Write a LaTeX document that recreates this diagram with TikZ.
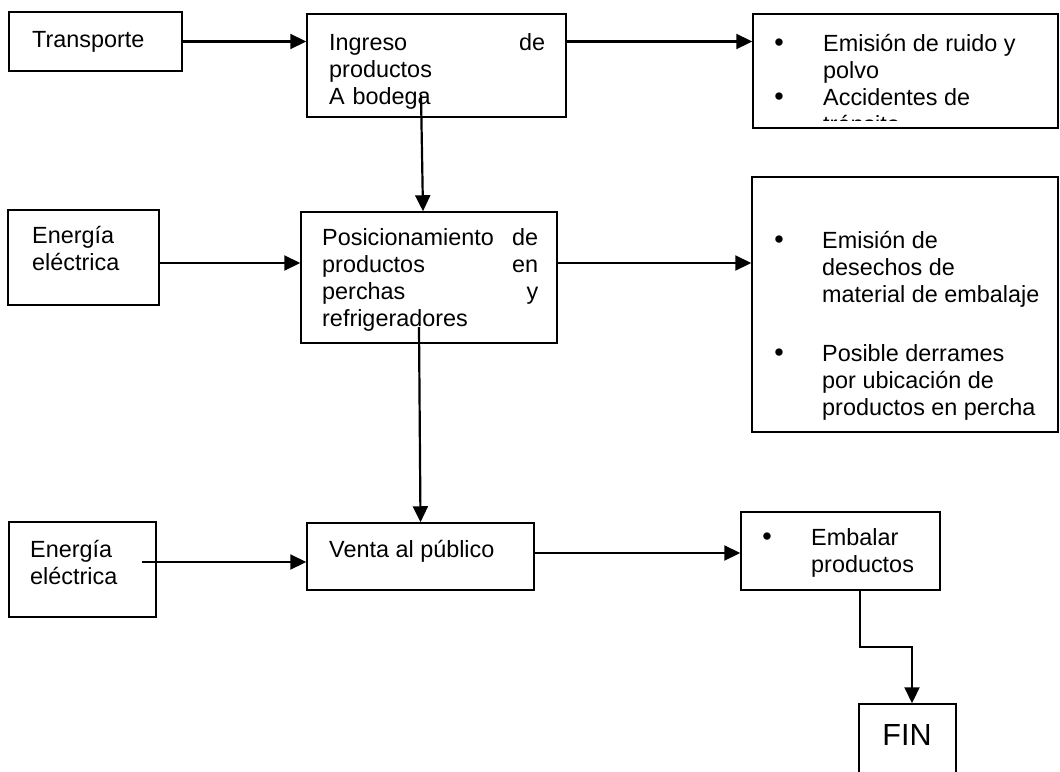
\documentclass[tikz,border=0pt]{standalone}
\usepackage{fontspec}
\setmainfont{Liberation Sans}
\usetikzlibrary{arrows.meta}

\tikzstyle{box}  = [draw, rectangle, line width=1.5pt, inner sep=0pt]
\tikzstyle{txt}  = [inner sep=0pt, anchor=north west, align=left]
\tikzstyle{bul}  = [inner sep=0pt, anchor=base, font=\fontsize{27}{27}\selectfont]
\tikzstyle{flow} = [-{Triangle[length=16pt,width=15pt]}, line width=2.2pt]
\newcommand{\firstln}{\rule{0pt}{19pt}}

\begin{document}
\begin{tikzpicture}[x=1pt,y=-1pt,font=\fontsize{23.4}{27}\selectfont]
  \useasboundingbox (0,0) rectangle (1060,771);
  % boxes
  \node at (95.5,41.5)  (trans)   [box, minimum width=173pt, minimum height=59pt] {};
  \node at (436.5,65.5) (ingreso) [box, minimum width=259pt, minimum height=103pt] {};
  \node at (905.5,71)   (out1)    [box, minimum width=305pt, minimum height=114pt] {};
  \node at (83.5,257.5) (ener1)   [box, minimum width=151pt, minimum height=95pt] {};
  \node at (429,277.5)  (pos)     [box, minimum width=256pt, minimum height=131pt] {};
  \node at (905,304.5)  (out2)    [box, minimum width=306pt, minimum height=255pt] {};
  \node at (82.5,569.5) (ener2)   [box, minimum width=147pt, minimum height=95pt] {};
  \node at (420.5,556.5) (venta)  [box, minimum width=227pt, minimum height=67pt] {};
  \node at (840.5,551)  (emb)     [box, minimum width=199pt, minimum height=78pt] {};
  \node at (907.5,747)  (fin)     [box, minimum width=97pt, minimum height=86pt] {};

  % texts
  \node at (32,28) (trans-t) [txt] {\firstln Transporte};
  \node at (329,31) (ingreso-t) [txt, text width=216pt]
    {\firstln Ingreso\hfill de\\productos\\A bodega};
  \begin{scope}
    \clip (753,14) rectangle (1058,120);
    \node at (823,32) (out1-t) [txt]
      {\firstln Emisión de ruido y\\polvo\\Accidentes de\\tránsito};
  \end{scope}
  \node at (779,51)  (b1) [bul] {\textbullet};
  \node at (779,105) (b2) [bul] {\textbullet};
  \node at (32,224) (ener1-t) [txt] {\firstln Energía\\eléctrica};
  \node at (322,226) (pos-t) [txt, text width=216pt]
    {\firstln Posicionamiento\hfill de\\productos\hfill en\\perchas\hfill y\\refrigeradores};
  \node at (822,229) (out2-t) [txt]
    {\firstln Emisión de\\desechos de\\material de embalaje\\[32pt]Posible derrames\\por ubicación de\\productos en percha};
  \node at (779,248) (b3) [bul] {\textbullet};
  \node at (779,361) (b4) [bul] {\textbullet};
  \node at (30,538) (ener2-t) [txt] {\firstln Energía\\eléctrica};
  \node at (329,538) (venta-t) [txt] {\firstln Venta al público};
  \node at (811,526) (emb-t) [txt] {\firstln Embalar\\productos};
  \node at (767,545) (b5) [bul] {\textbullet};
  \node at (907,745) (fin-t) [inner sep=0pt, anchor=base, font=\fontsize{30.5}{30.5}\selectfont] {FIN};

  % connectors
  \coordinate (row2) at (0,263);
  \coordinate (row3) at (0,553);
  \coordinate (ing-d) at (421,95);
  \coordinate (pos-d) at (419,327);
  \coordinate (ener2-r) at (142,562);
  \coordinate (emb-d) at (860,590);
  \draw[flow] (trans.east) -- (trans.east -| ingreso.west);
  \draw[flow] (ingreso.east |- trans.east) -- (out1.west |- trans.east);
  \draw[flow] (ing-d) -- ([xshift=-6pt]pos.north);
  \draw[flow] (ener1.east |- row2) -- (pos.west |- row2);
  \draw[flow] (pos.east |- row2) -- (out2.west |- row2);
  \draw[flow] (pos-d) -- (venta.north);
  \draw[flow] (ener2-r) -- (venta.west |- ener2-r);
  \draw[flow] (venta.east |- row3) -- (emb.west |- row3);
  \draw[flow] (emb-d) -- ++(0,57) -| ([xshift=4.5pt]fin.north);
\end{tikzpicture}
\end{document}
